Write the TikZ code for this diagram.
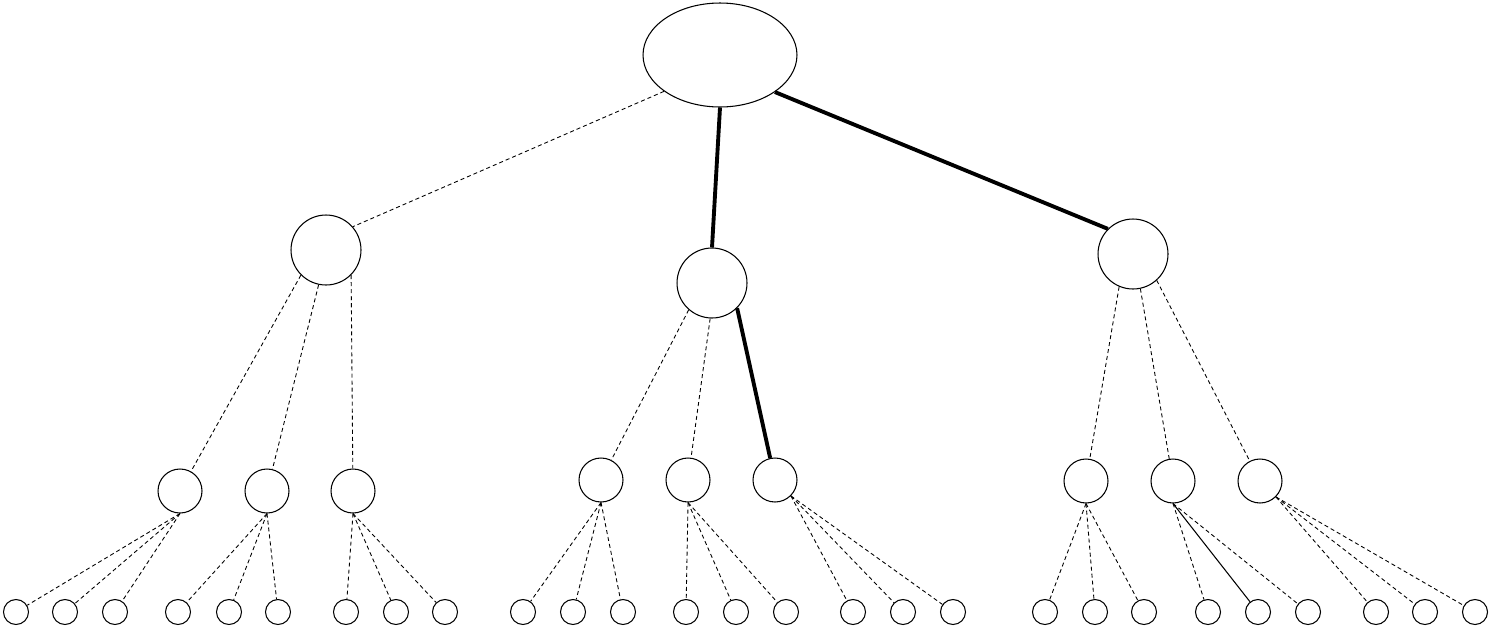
\documentclass[tikz,border=0pt]{standalone}
\usetikzlibrary{shapes.geometric}
\tikzset{
  every node/.style={
    draw,
    line width=0.6pt,
    inner sep=0pt
  },
  weak/.style={
    line width=0.5pt,
    dash pattern=on 2.3pt off 1.7pt
  },
  strong/.style={
    line width=2.2pt
  }
}

\begin{document}
\begin{tikzpicture}[
          x=0.02cm, y=-0.02cm,
          rootnode/.style={ellipse, minimum width=3.08cm, minimum height=2.08cm},
          topnode/.style={circle, minimum size=1.4cm},
          subnode/.style={circle, minimum size=0.88cm},
          leafnode/.style={circle, minimum size=0.5cm}
        ]
          \useasboundingbox (0,0) rectangle (1490,626);

          \node[rootnode] (root) at (720,55) {};
          \node[topnode] (a) at (326,250) {};
          \node[topnode] (b) at (712,283) {};
          \node[topnode] (c) at (1133,254) {};

          \foreach \n/\x in {a1/180, a2/267, a3/353} \node[subnode] (\n) at (\x,491) {};
          \foreach \n/\x in {b1/601, b2/688, b3/775} \node[subnode] (\n) at (\x,480) {};
          \foreach \n/\x in {c1/1086, c2/1173, c3/1260} \node[subnode] (\n) at (\x,481) {};

          % Leaves
          \foreach \n/\x in {a11/16, a12/65, a13/115, a21/178, a22/229, a23/278, a31/346, a32/396, a33/445,
                             b11/523, b12/573, b13/623, b21/686, b22/736, b23/786, b31/853, b32/903, b33/953,
                             c11/1045, c12/1095, c13/1144, c21/1208, c22/1258, c23/1308, c31/1376, c32/1425, c33/1475}
            \node[leafnode] (\n) at (\x,612) {};

          % Root edges
          \draw[weak] (root.213) -- (a.41);
          \draw[strong] (root.south) -- (b.north);
          \draw[strong] (root.326) -- (c.135);

          % Second level
          \draw[weak] (a.225) -- (a1);
          \draw[weak] (a.258) -- (a2);
          \draw[weak] (a.315) -- (a3);
          \draw[weak] (b.229) -- (b1);
          \draw[weak] (b.267) -- (b2);
          \draw[strong] (b.315) -- (b3);
          \draw[weak] (c.247) -- (c1);
          \draw[weak] (c.282) -- (c2);
          \draw[weak] (c.312) -- (c3);

          % Leaf edges
          \foreach \p/\s in {a1/270, a2/270, a3/270, b1/270, b2/270, b3/315, c1/270, c3/315}
            \foreach \k in {1,2,3}
              \draw[weak] (\p.\s) -- (\p\k);
          \draw[weak] (c2.south) -- (c21);
          \draw[line width=0.6pt] (c2.south) -- (c22);
          \draw[weak] (c2.south) -- (c23);
        \end{tikzpicture}
\end{document}
